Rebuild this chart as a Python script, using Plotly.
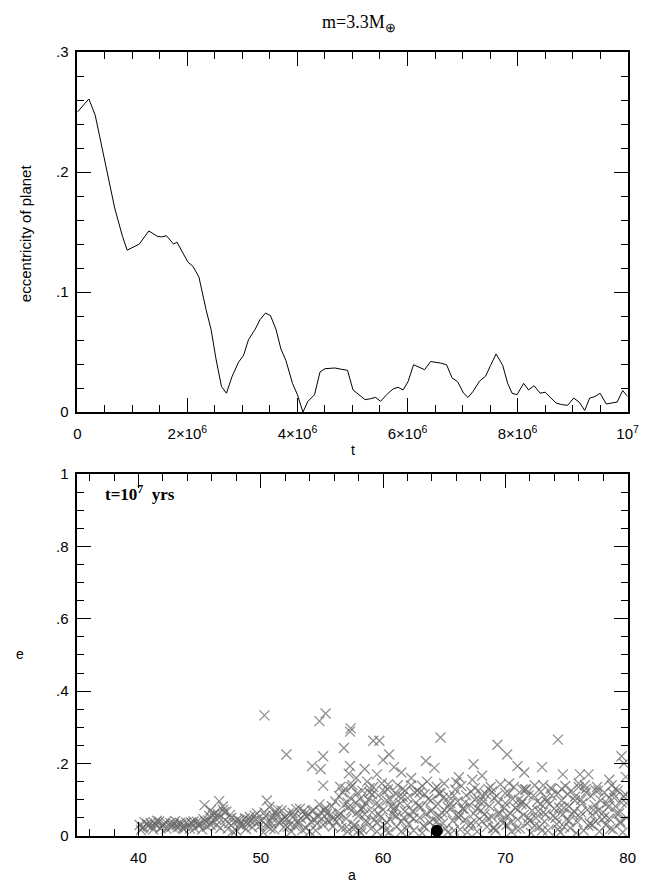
import plotly.graph_objects as go

# ---------------- top panel: planet eccentricity vs time ----------------
t_vals = [0.0, 0.21e6, 0.325e6, 0.53e6, 0.68e6, 0.82e6, 0.906e6, 1.125e6, 1.30e6, 1.45e6,
          1.53e6, 1.62e6, 1.75e6, 1.81e6, 1.92e6, 2.01e6, 2.10e6, 2.21e6, 2.34e6, 2.43e6,
          2.52e6, 2.62e6, 2.71e6, 2.81e6, 2.93e6, 3.02e6, 3.11e6, 3.23e6, 3.32e6, 3.42e6,
          3.51e6, 3.61e6, 3.70e6, 3.79e6, 3.91e6, 4.00e6, 4.10e6, 4.19e6, 4.31e6, 4.41e6,
          4.50e6, 4.68e6, 4.80e6, 4.91e6, 5.01e6, 5.12e6, 5.23e6, 5.33e6, 5.42e6, 5.51e6,
          5.62e6, 5.74e6, 5.83e6, 5.92e6, 6.01e6, 6.11e6, 6.22e6, 6.31e6, 6.42e6, 6.51e6,
          6.60e6, 6.71e6, 6.81e6, 6.91e6, 7.02e6, 7.10e6, 7.19e6, 7.31e6, 7.42e6, 7.51e6,
          7.61e6, 7.73e6, 7.82e6, 7.90e6, 7.99e6, 8.11e6, 8.20e6, 8.30e6, 8.41e6, 8.50e6,
          8.60e6, 8.70e6, 8.80e6, 8.91e6, 9.02e6, 9.12e6, 9.22e6, 9.31e6, 9.41e6, 9.50e6,
          9.61e6, 9.71e6, 9.81e6, 9.91e6, 10.0e6]
ecc_vals = [0.250, 0.261, 0.2475, 0.201, 0.170, 0.1466, 0.135, 0.140, 0.151, 0.1466,
            0.146, 0.147, 0.140, 0.1417, 0.133, 0.125, 0.1216, 0.1126, 0.0853, 0.069,
            0.0444, 0.0213, 0.0158, 0.0294, 0.0417, 0.0472, 0.0603, 0.0689, 0.0771, 0.0826,
            0.0804, 0.069, 0.0526, 0.0431, 0.024, 0.0145, 0.0, 0.009, 0.0145, 0.0335,
            0.0362, 0.0368, 0.0357, 0.0349, 0.0185, 0.0145, 0.0104, 0.0112, 0.0123, 0.009,
            0.0145, 0.0194, 0.0207, 0.0185, 0.0254, 0.0395, 0.0376, 0.0354, 0.0422, 0.0417,
            0.0409, 0.0395, 0.0286, 0.0254, 0.0158, 0.0123, 0.0172, 0.0259, 0.030, 0.039,
            0.0485, 0.039, 0.024, 0.0158, 0.0145, 0.024, 0.0185, 0.022, 0.0158, 0.0166,
            0.0117, 0.0076, 0.0063, 0.0057, 0.0117, 0.0084, 0.0014, 0.0117, 0.0131, 0.0158,
            0.0068, 0.0076, 0.0084, 0.018, 0.0131]

top_ytick_vals = [0, 0.1, 0.2, 0.3]
top_ytick_text = ["0", ".1", ".2", ".3"]
top_xtick_vals = [0, 2e6, 4e6, 6e6, 8e6, 1e7]
top_xtick_text = ["0", "2×10<sup>6</sup>", "4×10<sup>6</sup>", "6×10<sup>6</sup>",
                  "8×10<sup>6</sup>", "10<sup>7</sup>"]

# ---------------- bottom panel: test particles a-e ----------------
band1_a = [40.1, 40.3, 40.5, 40.8, 41.0, 41.2, 41.4, 41.7, 41.9, 42.1, 42.3, 42.6, 42.8, 43.0,
           43.2, 43.5, 43.7, 43.9, 44.1, 44.4, 44.6, 44.8, 40.2, 40.7, 41.1, 41.5, 41.8, 42.2,
           42.7, 43.1, 43.4, 43.8, 44.2, 44.5, 44.9]
band1_e = [0.030, 0.022, 0.038, 0.027, 0.035, 0.018, 0.031, 0.040, 0.025, 0.033, 0.020, 0.036,
           0.028, 0.041, 0.024, 0.032, 0.019, 0.037, 0.029, 0.034, 0.021, 0.039, 0.016, 0.033,
           0.026, 0.042, 0.021, 0.038, 0.025, 0.030, 0.036, 0.027, 0.020, 0.040, 0.031]

band2_a = [45.1, 45.3, 45.6, 45.8, 46.0, 46.2, 46.4, 46.6, 46.9, 47.1, 47.3, 47.5, 47.8, 48.0,
           48.2, 48.5, 48.7, 48.9, 49.1, 49.3, 49.6, 49.8, 45.2, 45.5, 45.9, 46.3, 46.7, 47.0,
           47.4, 47.7, 48.1, 48.4, 48.8, 49.2, 49.5, 49.9, 45.4, 46.6, 46.9, 47.2, 45.9, 46.1]
band2_e = [0.034, 0.047, 0.026, 0.055, 0.038, 0.062, 0.030, 0.050, 0.072, 0.044, 0.020, 0.058,
           0.036, 0.015, 0.042, 0.028, 0.049, 0.033, 0.052, 0.024, 0.045, 0.038, 0.018, 0.040,
           0.031, 0.048, 0.022, 0.066, 0.035, 0.012, 0.046, 0.039, 0.019, 0.041, 0.056, 0.027,
           0.085, 0.096, 0.081, 0.067, 0.071, 0.057]

band3_a = [50.1, 50.3, 50.5, 50.7, 50.9, 51.1, 51.3, 51.5, 51.7, 51.9, 52.1, 52.3, 52.5, 52.7,
           52.9, 53.1, 53.3, 53.5, 53.7, 53.9, 54.1, 54.3, 54.5, 54.7, 54.9, 55.1, 55.3, 55.5,
           55.7, 55.9, 50.2, 50.6, 51.0, 51.4, 51.8, 52.2, 52.6, 53.0, 53.4, 53.8, 54.2, 54.6,
           55.0, 55.4, 55.8, 50.4, 50.8, 51.6, 52.4, 53.2, 54.0, 54.8, 55.6, 50.5]
band3_e = [0.042, 0.065, 0.028, 0.080, 0.050, 0.018, 0.058, 0.036, 0.070, 0.024, 0.046, 0.062,
           0.012, 0.055, 0.074, 0.033, 0.048, 0.068, 0.021, 0.060, 0.039, 0.072, 0.015, 0.052,
           0.066, 0.030, 0.077, 0.044, 0.058, 0.026, 0.010, 0.038, 0.056, 0.072, 0.045, 0.025,
           0.064, 0.040, 0.016, 0.053, 0.069, 0.034, 0.047, 0.061, 0.082, 0.055, 0.020, 0.043,
           0.031, 0.075, 0.012, 0.087, 0.038, 0.098]

band4_a = [56.1, 56.2, 56.4, 56.5, 56.6, 56.8, 56.9, 57.0, 57.1, 57.3, 57.4, 57.5, 57.7, 57.8,
           57.9, 58.0, 58.2, 58.3, 58.4, 58.6, 58.7, 58.8, 59.0, 59.1, 59.2, 59.4, 59.5, 59.6,
           59.8, 59.9, 60.0, 60.2, 60.3, 60.4, 60.6, 60.7, 60.8, 61.0, 61.1, 61.2, 61.4, 61.5,
           61.6, 61.8, 61.9, 56.3, 56.7, 57.2, 57.6, 58.1, 58.5, 58.9, 59.3, 59.7, 60.1, 60.5,
           60.9, 61.3, 61.7, 57.0, 57.9, 58.6, 59.5, 60.3, 61.0, 61.6, 58.0, 58.3]
band4_e = [0.095, 0.040, 0.110, 0.062, 0.022, 0.085, 0.130, 0.048, 0.012, 0.105, 0.070, 0.140,
           0.030, 0.092, 0.118, 0.055, 0.008, 0.125, 0.078, 0.042, 0.150, 0.100, 0.020, 0.065,
           0.135, 0.088, 0.035, 0.112, 0.052, 0.145, 0.072, 0.015, 0.098, 0.128, 0.045, 0.082,
           0.060, 0.118, 0.025, 0.140, 0.090, 0.040, 0.108, 0.068, 0.018, 0.052, 0.120, 0.080,
           0.028, 0.102, 0.060, 0.132, 0.045, 0.085, 0.122, 0.010, 0.070, 0.110, 0.050, 0.025,
           0.065, 0.090, 0.012, 0.038, 0.080, 0.130, 0.015, 0.018]

band5_a = [62.0, 62.1, 62.3, 62.4, 62.5, 62.7, 62.8, 63.0, 63.1, 63.2, 63.4, 63.5, 63.6, 63.8,
           63.9, 64.0, 64.2, 64.3, 64.5, 64.6, 64.7, 64.9, 65.0, 65.2, 65.3, 65.4, 65.6, 65.7,
           65.9, 66.0, 66.1, 66.3, 66.4, 66.6, 66.7, 66.8, 67.0, 67.1, 67.3, 67.4, 67.5, 67.7,
           67.8, 68.0, 68.1, 68.2, 68.4, 68.5, 68.7, 68.8, 68.9, 69.1, 69.2, 69.4, 69.5, 69.6,
           69.8, 69.9, 62.2, 62.6, 62.9, 63.3, 63.7, 64.1, 64.4, 64.8, 65.1, 65.5, 65.8, 66.2,
           66.5, 66.9, 67.2, 67.6, 67.9, 68.3, 68.6, 69.0, 69.3, 69.7]
band5_e = [0.105, 0.032, 0.140, 0.068, 0.015, 0.092, 0.125, 0.050, 0.080, 0.008, 0.115, 0.060,
           0.150, 0.038, 0.098, 0.072, 0.130, 0.022, 0.088, 0.055, 0.118, 0.035, 0.145, 0.065,
           0.010, 0.108, 0.078, 0.042, 0.128, 0.058, 0.095, 0.018, 0.138, 0.075, 0.045, 0.112,
           0.028, 0.085, 0.155, 0.062, 0.100, 0.012, 0.125, 0.070, 0.040, 0.095, 0.115, 0.025,
           0.082, 0.135, 0.052, 0.105, 0.015, 0.092, 0.060, 0.142, 0.035, 0.078, 0.055, 0.120,
           0.082, 0.028, 0.102, 0.045, 0.135, 0.065, 0.020, 0.090, 0.112, 0.050, 0.075, 0.010,
           0.122, 0.038, 0.095, 0.060, 0.130, 0.022, 0.110, 0.045]

band6_a = [70.0, 70.1, 70.3, 70.4, 70.5, 70.7, 70.8, 71.0, 71.1, 71.2, 71.4, 71.5, 71.7, 71.8,
           71.9, 72.1, 72.2, 72.4, 72.5, 72.6, 72.8, 72.9, 73.1, 73.2, 73.3, 73.5, 73.6, 73.8,
           73.9, 74.0, 74.2, 74.3, 74.5, 74.6, 74.7, 74.9, 75.0, 75.2, 75.3, 75.4, 75.6, 75.7,
           75.9, 76.0, 76.1, 76.3, 76.4, 76.6, 76.7, 76.8, 77.0, 77.1, 77.3, 77.4, 77.5, 77.7,
           77.8, 78.0, 78.1, 78.2, 78.4, 78.5, 78.7, 78.8, 78.9, 79.1, 79.2, 79.4, 79.5, 79.6,
           79.8, 79.9, 70.2, 70.6, 70.9, 71.3, 71.6, 72.0, 72.3, 72.7, 73.0, 73.4, 73.7, 74.1,
           74.4, 74.8, 75.1, 75.5, 75.8, 76.2, 76.5, 76.9, 77.2, 77.6, 77.9, 78.3, 78.6, 79.0,
           79.3, 79.7]
band6_e = [0.090, 0.030, 0.118, 0.062, 0.012, 0.135, 0.078, 0.045, 0.100, 0.020, 0.128, 0.058,
           0.085, 0.035, 0.112, 0.008, 0.070, 0.140, 0.050, 0.095, 0.025, 0.122, 0.065, 0.040,
           0.105, 0.015, 0.088, 0.130, 0.055, 0.075, 0.032, 0.118, 0.010, 0.098, 0.060, 0.138,
           0.045, 0.082, 0.022, 0.125, 0.068, 0.108, 0.038, 0.145, 0.052, 0.090, 0.015, 0.130,
           0.072, 0.028, 0.110, 0.058, 0.085, 0.040, 0.135, 0.012, 0.098, 0.065, 0.120, 0.030,
           0.080, 0.048, 0.140, 0.018, 0.105, 0.062, 0.125, 0.035, 0.092, 0.010, 0.115, 0.050,
           0.055, 0.102, 0.020, 0.088, 0.128, 0.042, 0.112, 0.068, 0.015, 0.095, 0.132, 0.050,
           0.078, 0.025, 0.115, 0.060, 0.008, 0.100, 0.140, 0.035, 0.072, 0.125, 0.045, 0.090,
           0.020, 0.130, 0.062, 0.108]

band7_a = [56.4, 57.1, 57.6, 58.2, 58.7, 59.1, 59.6, 60.1, 60.6, 61.1, 61.5, 62.0, 62.5, 63.0,
           63.4, 63.9, 64.4, 64.9, 65.3, 65.8, 66.3, 66.7, 67.2, 67.7, 68.1, 68.6, 69.1, 69.5,
           70.0, 70.5, 71.0, 71.4, 71.9, 72.4, 72.9, 73.3, 73.8, 74.3, 74.8, 75.2, 75.7, 76.2,
           76.6, 77.1, 77.6, 78.1, 78.5, 79.0, 79.4, 79.9, 57.4, 58.9, 60.4, 61.8, 63.2, 64.6,
           66.0, 67.5, 68.9, 70.3, 71.7, 73.1, 74.6, 76.0, 77.4, 78.8]
band7_e = [0.058, 0.092, 0.018, 0.075, 0.038, 0.115, 0.062, 0.030, 0.100, 0.055, 0.012, 0.085,
           0.048, 0.120, 0.025, 0.068, 0.040, 0.105, 0.080, 0.015, 0.058, 0.092, 0.035, 0.075,
           0.110, 0.048, 0.022, 0.065, 0.118, 0.038, 0.072, 0.095, 0.050, 0.028, 0.088, 0.060,
           0.112, 0.018, 0.078, 0.042, 0.098, 0.065, 0.120, 0.030, 0.070, 0.052, 0.105, 0.082,
           0.040, 0.090, 0.135, 0.120, 0.142, 0.125, 0.138, 0.118, 0.148, 0.132, 0.122, 0.145,
           0.128, 0.140, 0.130, 0.135, 0.125, 0.118]

band8_a = [40.4, 41.3, 42.0, 42.9, 43.6, 44.3, 45.0, 45.7, 46.5, 47.6, 48.3, 49.0, 49.7, 50.9,
           51.2, 52.0, 52.8, 53.6, 54.4, 55.2, 55.9]
band8_e = [0.024, 0.036, 0.028, 0.033, 0.022, 0.037, 0.029, 0.043, 0.060, 0.050, 0.030, 0.045,
           0.062, 0.035, 0.068, 0.052, 0.028, 0.060, 0.045, 0.070, 0.050]

outlier_a = [50.3, 52.1, 54.8, 55.3, 57.35, 57.3, 56.8, 55.1, 54.2, 54.9, 55.1, 57.3, 57.2,
             56.5, 59.2, 59.7, 64.7, 69.35, 70.15, 74.3, 71.0, 79.5, 60.5, 60.0, 63.5, 64.2,
             67.4, 68.1, 71.55, 73.0, 74.7, 76.1, 76.8, 79.85, 58.5, 59.5, 61.5, 62.3, 66.2,
             79.7, 78.5, 57.8, 60.9]
outlier_e = [0.333, 0.225, 0.317, 0.338, 0.297, 0.288, 0.243, 0.220, 0.193, 0.184, 0.139, 0.193,
             0.172, 0.135, 0.263, 0.263, 0.272, 0.252, 0.225, 0.266, 0.193, 0.220, 0.225, 0.210,
             0.207, 0.188, 0.198, 0.166, 0.175, 0.190, 0.170, 0.170, 0.170, 0.163, 0.185, 0.170,
             0.175, 0.160, 0.162, 0.200, 0.155, 0.160, 0.190]

planet_a = [64.4]
planet_e = [0.014]

bot_ytick_vals = [0, 0.2, 0.4, 0.6, 0.8, 1.0]
bot_ytick_text = ["0", ".2", ".4", ".6", ".8", "1"]
bot_xtick_vals = [40, 50, 60, 70, 80]

# ---------------- figure ----------------
W, H = 666, 890
def px(x):
    return x / W
def py(y):
    return 1 - y / H

fig = go.Figure()

fig.add_trace(go.Scatter(x=t_vals, y=ecc_vals, mode="lines",
                         line=dict(color="black", width=1), xaxis="x", yaxis="y",
                         showlegend=False, hoverinfo="skip"))

tp_a = band1_a + band2_a + band3_a + band4_a + band5_a + band6_a + band7_a + band8_a + outlier_a
tp_e = band1_e + band2_e + band3_e + band4_e + band5_e + band6_e + band7_e + band8_e + outlier_e
fig.add_trace(go.Scatter(x=tp_a, y=tp_e, mode="markers", xaxis="x2", yaxis="y2",
                         marker=dict(symbol="x-thin", size=10,
                                     line=dict(color="rgba(105,105,105,0.75)", width=1.3)),
                         showlegend=False, hoverinfo="skip"))
fig.add_trace(go.Scatter(x=planet_a, y=planet_e, mode="markers", xaxis="x2", yaxis="y2",
                         marker=dict(symbol="circle", size=12, color="black"),
                         showlegend=False, hoverinfo="skip"))

tickfont = dict(family="Liberation Sans, Arial", size=15, color="black")
common = dict(showline=True, mirror="ticks", linecolor="black", linewidth=1.5,
              ticks="inside", tickcolor="black", tickwidth=1.3, showgrid=False,
              zeroline=False, tickfont=tickfont, fixedrange=True)

fig.update_layout(
    width=W, height=H, margin=dict(l=0, r=0, t=0, b=0),
    paper_bgcolor="white", plot_bgcolor="white",
    xaxis=dict(domain=[px(75), px(638)], anchor="y", range=[0, 1e7],
               tickvals=top_xtick_vals, ticktext=top_xtick_text, ticklen=14,
               ticklabelstandoff=7,
               minor=dict(dtick=5e5, tick0=0, ticklen=7, ticks="inside",
                          tickcolor="black", tickwidth=1.2), **common),
    yaxis=dict(domain=[py(411), py(44)], anchor="x", range=[0, 0.3],
               tickvals=top_ytick_vals, ticktext=top_ytick_text, ticklen=14,
               ticklabelstandoff=4,
               minor=dict(dtick=0.02, tick0=0, ticklen=7, ticks="inside",
                          tickcolor="black", tickwidth=1.2), **common),
    xaxis2=dict(domain=[px(75), px(638)], anchor="y2", range=[35, 80],
                tickvals=bot_xtick_vals, ticklen=14, ticklabelstandoff=7,
                minor=dict(dtick=2, tick0=0, ticklen=7, ticks="inside",
                           tickcolor="black", tickwidth=1.2), **common),
    yaxis2=dict(domain=[py(843), py(474)], anchor="x2", range=[0, 1.0],
                tickvals=bot_ytick_vals, ticktext=bot_ytick_text, ticklen=14,
                ticklabelstandoff=4,
                minor=dict(dtick=0.05, tick0=0, ticklen=7, ticks="inside",
                           tickcolor="black", tickwidth=1.2), **common),
)

ann = [
    dict(text="m=3.3M<sub>⊕</sub>", x=px(363), y=py(15), font=dict(family="Liberation Serif", size=18)),
    dict(text="eccentricity of planet", x=px(22), y=py(229), textangle=-90,
         font=dict(family="Liberation Sans, Arial", size=15)),
    dict(text="t", x=px(357), y=py(450), font=dict(family="Liberation Sans, Arial", size=14)),
    dict(text="e", x=px(16), y=py(658), font=dict(family="Liberation Sans, Arial", size=14)),
    dict(text="a", x=px(356), y=py(883), font=dict(family="Liberation Sans, Arial", size=14)),
    dict(text="<b>t=10<sup>7</sup>  yrs</b>", x=px(101), y=py(493), xanchor="left",
         font=dict(family="Liberation Serif", size=17)),
]
for a in ann:
    a.setdefault("xanchor", "center")
    a.update(xref="paper", yref="paper", yanchor="middle", showarrow=False)
    a["font"]["color"] = "black"
fig.update_layout(annotations=ann)

fig.write_html("out.html")
